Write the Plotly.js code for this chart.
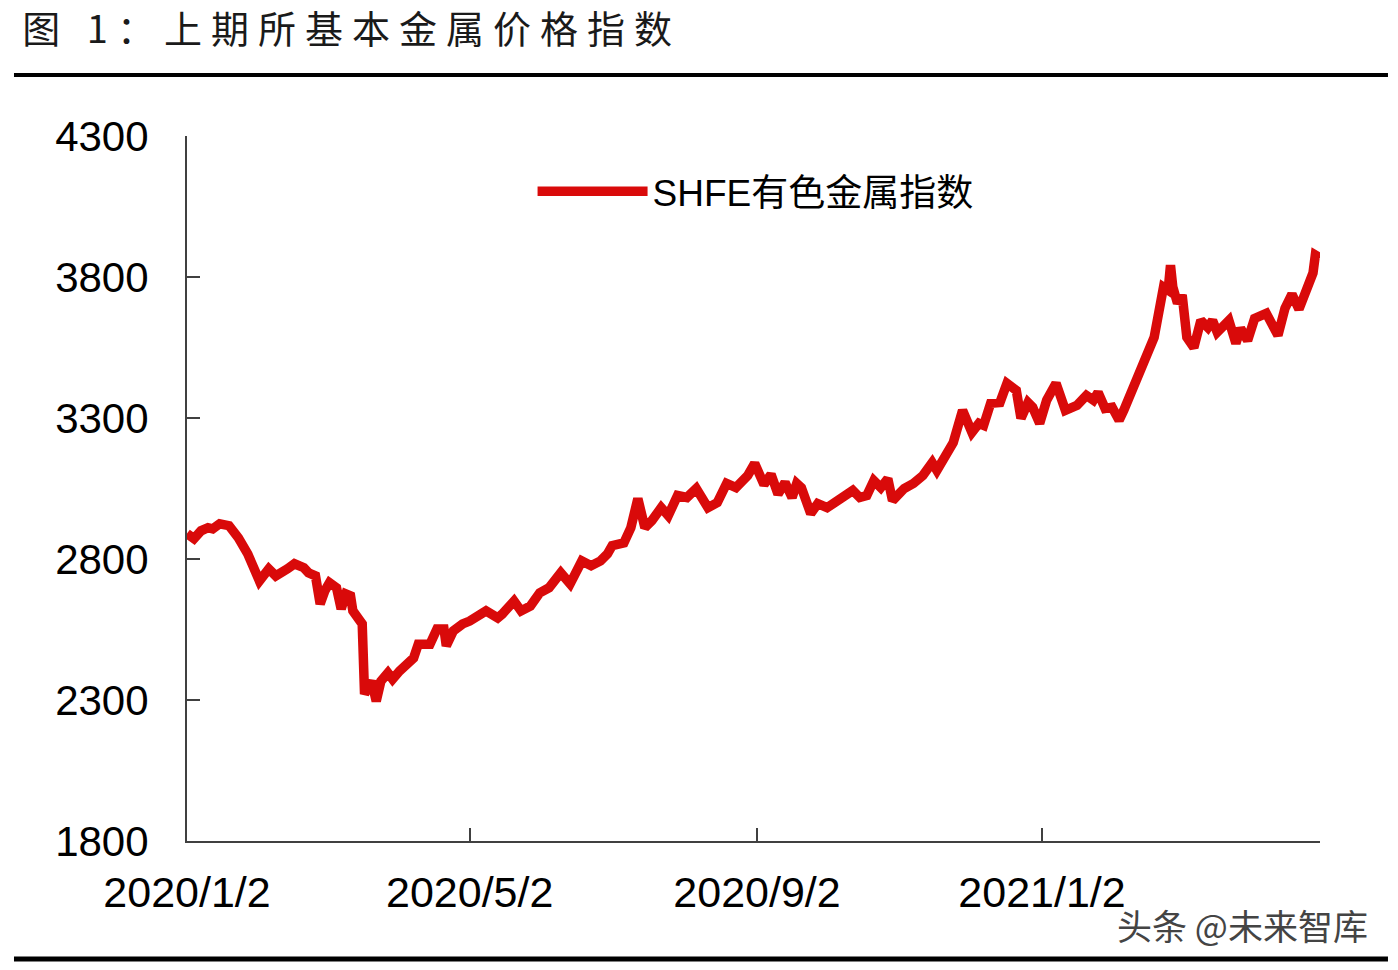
<!DOCTYPE html>
<html>
<head>
<meta charset="utf-8">
<script src="https://cdn.plot.ly/plotly-3.0.1.min.js"></script>
<style>
html,body{margin:0;padding:0;background:#fff;}
#chart{width:1398px;height:970px;}
#chart .gtitle{letter-spacing:9px;}
</style>
</head>
<body>
<div id="chart"></div>
<script>
const titleText = "图 1：上期所基本金属价格指数";
const seriesName = "SHFE有色金属指数";
const watermark = "头条 @未来智库";

const dates = [
"2020-01-02","2020-01-05","2020-01-08","2020-01-11","2020-01-13","2020-01-16","2020-01-20","2020-01-22","2020-01-24","2020-01-28",
"2020-02-02","2020-02-06","2020-02-09","2020-02-14","2020-02-17","2020-02-21","2020-02-23","2020-02-26","2020-02-28","2020-03-01",
"2020-03-03","2020-03-06","2020-03-08","2020-03-10","2020-03-12","2020-03-13","2020-03-17","2020-03-18","2020-03-21","2020-03-23",
"2020-03-25","2020-03-28","2020-03-30","2020-04-02","2020-04-08","2020-04-10","2020-04-15","2020-04-18","2020-04-21","2020-04-22",
"2020-04-25","2020-04-29","2020-05-02","2020-05-09","2020-05-14","2020-05-16","2020-05-21","2020-05-24","2020-05-28","2020-06-01",
"2020-06-05","2020-06-10","2020-06-14","2020-06-19","2020-06-23","2020-06-27","2020-06-30","2020-07-02","2020-07-07","2020-07-10",
"2020-07-13","2020-07-16","2020-07-19","2020-07-23","2020-07-26","2020-07-30","2020-08-03","2020-08-07","2020-08-12","2020-08-16",
"2020-08-20","2020-08-24","2020-08-29","2020-09-01","2020-09-05","2020-09-08","2020-09-11","2020-09-14","2020-09-17","2020-09-19",
"2020-09-21","2020-09-25","2020-09-28","2020-10-02","2020-10-08","2020-10-13","2020-10-16","2020-10-19","2020-10-22","2020-10-25",
"2020-10-28","2020-10-30","2020-11-04","2020-11-08","2020-11-12","2020-11-16","2020-11-18","2020-11-22","2020-11-25","2020-11-29",
"2020-12-03","2020-12-06","2020-12-08","2020-12-11","2020-12-15","2020-12-18","2020-12-22","2020-12-24","2020-12-27","2020-12-29",
"2021-01-01","2021-01-04","2021-01-08","2021-01-12","2021-01-17","2021-01-21","2021-01-24","2021-01-26","2021-01-29","2021-02-01",
"2021-02-04","2021-02-06","2021-02-09","2021-02-12","2021-02-15","2021-02-19","2021-02-21","2021-02-23","2021-02-25","2021-02-26",
"2021-02-27","2021-03-01","2021-03-03","2021-03-05","2021-03-08","2021-03-11","2021-03-14","2021-03-16","2021-03-18","2021-03-23",
"2021-03-26","2021-03-28","2021-03-31","2021-04-03","2021-04-08","2021-04-13","2021-04-16","2021-04-19","2021-04-22","2021-04-26",
"2021-04-28","2021-04-29","2021-05-01"
];

const values = [
2890,2872,2900,2911,2907,2925,2918,2900,2875,2818,
2722,2765,2740,2765,2783,2769,2751,2740,2641,2687,
2716,2698,2623,2676,2669,2616,2570,2321,2367,2296,
2367,2396,2374,2403,2449,2498,2498,2552,2552,2492,
2545,2570,2580,2616,2591,2605,2651,2616,2633,2680,
2698,2751,2712,2793,2776,2793,2818,2847,2857,2911,
3014,2911,2936,2982,2954,3025,3018,3050,2982,3000,
3068,3053,3096,3139,3064,3100,3030,3071,3018,3068,
3053,2961,2996,2982,3018,3043,3018,3025,3078,3053,
3085,3007,3050,3068,3096,3142,3114,3175,3213,3327,
3249,3281,3274,3352,3355,3423,3398,3299,3355,3338,
3281,3363,3423,3327,3345,3380,3363,3391,3334,3338,
3292,3327,3387,3461,3522,3586,3675,3764,3753,3842,
3764,3707,3736,3586,3550,3646,3621,3646,3604,3646,
3565,3618,3575,3653,3671,3593,3689,3739,3686,3778,
3814,3878,3868
];

const xTickVals = ["2020-01-02","2020-05-02","2020-09-02","2021-01-02"];
const xTickText = ["2020/1/2","2020/5/2","2020/9/2","2021/1/2"];
const yTickVals = [1800,2300,2800,3300,3800,4300];

const lineColor = "#d90a0a";
const axisColor = "#404040";

const trace = {
  type: "scatter",
  mode: "lines",
  x: dates,
  y: values,
  name: seriesName,
  line: {color: lineColor, width: 9.5, shape: "linear"},
  hoverinfo: "x+y"
};

const layout = {
  width: 1398,
  height: 970,
  paper_bgcolor: "#ffffff",
  plot_bgcolor: "#ffffff",
  margin: {l: 187, r: 78, t: 136, b: 129},
  font: {family: "Liberation Sans, Arial, 'Noto Sans CJK SC', sans-serif", color: "#000"},
  title: {
    text: titleText,
    font: {family: "'Noto Sans CJK SC', sans-serif", size: 38, color: "#1a1a1a"},
    xref: "container", yref: "container",
    x: 0.016, xanchor: "left",
    y: 0.969, yanchor: "middle"
  },
  showlegend: true,
  legend: {
    x: 0.305, y: 0.921, xanchor: "left", yanchor: "middle",
    bgcolor: "rgba(0,0,0,0)",
    font: {family: "Liberation Sans, 'Noto Sans CJK SC', sans-serif", size: 37, color: "#000"},
    itemwidth: 110
  },
  xaxis: {
    type: "date",
    range: ["2020-01-02", "2021-05-01"],
    tickmode: "array",
    tickvals: xTickVals,
    ticktext: xTickText,
    ticks: "inside",
    ticklen: 13,
    tickwidth: 2,
    tickcolor: axisColor,
    showline: true,
    linecolor: axisColor,
    linewidth: 2,
    showgrid: false,
    zeroline: false,
    tickfont: {family: "Liberation Sans, Arial, sans-serif", size: 43, color: "#000"},
    ticklabelstandoff: 12
  },
  yaxis: {
    range: [1800, 4300],
    tickmode: "array",
    tickvals: yTickVals,
    ticks: "inside",
    ticklen: 13,
    tickwidth: 2,
    tickcolor: axisColor,
    showline: true,
    linecolor: axisColor,
    linewidth: 2,
    showgrid: false,
    zeroline: false,
    tickfont: {family: "Liberation Sans, Arial, sans-serif", size: 42, color: "#000"},
    ticklabelstandoff: 28
  },
  shapes: [
    {type: "line", xref: "paper", yref: "paper", x0: -0.1527, x1: 1.06, y0: 1.0865, y1: 1.0865,
     line: {color: "#000", width: 4}},
    {type: "line", xref: "paper", yref: "paper", x0: -0.1527, x1: 1.06, y0: -0.1675, y1: -0.1675,
     line: {color: "#000", width: 5}}
  ],
  annotations: [
    {text: watermark, xref: "paper", yref: "paper", x: 1.044, y: -0.118, xanchor: "right", yanchor: "middle",
     showarrow: false, font: {family: "'Noto Sans CJK SC', sans-serif", size: 35, color: "#444"}}
  ]
};

Plotly.newPlot("chart", [trace], layout, {displayModeBar: false, staticPlot: true});
</script>
</body>
</html>
